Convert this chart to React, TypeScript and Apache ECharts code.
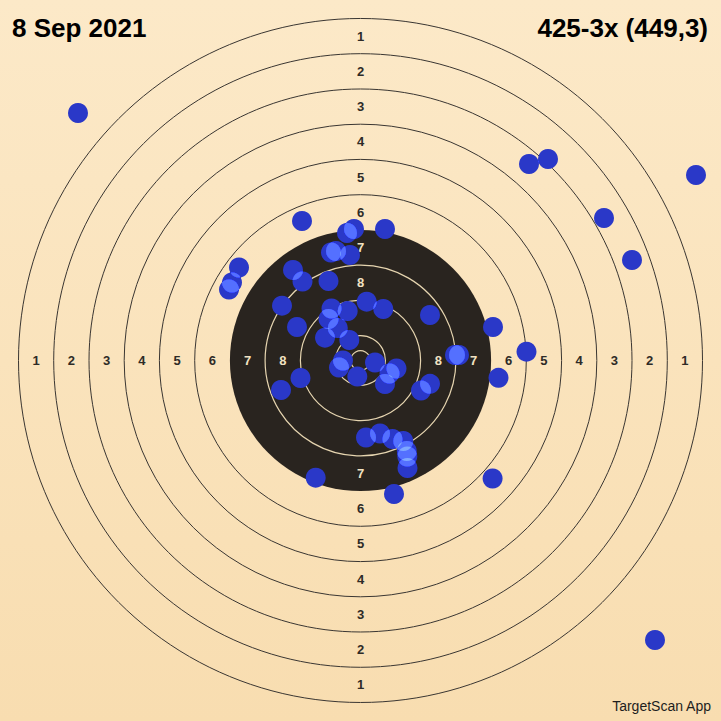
import React, { useEffect, useRef } from "react";
import * as echarts from "echarts";

// Target geometry (target units, centre = 0,0)
const ringRadii = [342, 306.8, 271.5, 236.3, 201.1, 165.8, 130.6, 95.4, 60.1, 24.9, 9.7];
const ringKinds = ["line", "line", "line", "line", "line", "line", "black", "inner", "inner", "inner", "inner"];
const labelScores = [1, 2, 3, 4, 5, 6, 7, 8];

// Shots
const shotX = [
  -282.5, 168.5, 187.5, 335.5, 243.5, 271.5, 294.5, -58.5, 24.5, -13.5,
  -6.5, -29.5, -24.5, -10.5, -121.5, -128.5, -131.5, -67.5, -58, -32,
  -78.5, -63.5, 6.2, 22.8, -29, -12.8, -32, -22.7, -35.5, -11.2,
  -17.5, -21.5, 14.5, -3.2, 36, 29, 24.5, 69.5, 132.5, 166,
  94.5, 98.5, 138, 69.5, 60.5, -60, -79.5, 5.5, 19.5, 32,
  42.8, 46.3, 46.8, 47, -44.8, 33.5, 132.1,
];
const shotY = [
  247.5, 196.5, 201.5, 185.5, 142.5, 100.5, -279.5, 139.5, 131.5, 127.5,
  131.5, 108, 109.5, 105.5, 93, 78, 71, 90.5, 79, 79.5,
  54.8, 33.5, 58.8, 51.5, 52, 49.5, 41.5, 32.5, 22.8, 20.5,
  0, -7, -2, -16, -8, -13, -23.5, 45.5, 33.5, 8.8,
  5.5, 5.5, -17.3, -23.3, -30, -17.5, -29.5, -77, -73, -78.5,
  -80.5, -90.5, -96, -107.5, -117.2, -133.5, -118,
];

const titleLeft = "8 Sep 2021";
const titleRight = "425-3x (449,3)";
const footerText = "TargetScan App";

const EXTENT = 360.5;
const FONT = '"Liberation Sans", Arial, Helvetica, sans-serif';

function axes() {
  return {
    grid: { left: 0, right: 0, top: 0, bottom: 0 },
    xAxis: { type: "value", min: -EXTENT, max: EXTENT, show: false },
    yAxis: { type: "value", min: -EXTENT, max: EXTENT, show: false },
  };
}

export default function App() {
  const targetRef = useRef<HTMLDivElement>(null);
  const dotsRef = useRef<HTMLDivElement>(null);

  useEffect(() => {
    const target = echarts.init(targetRef.current!, undefined, { renderer: "svg" });
    const dots = echarts.init(dotsRef.current!, undefined, { renderer: "svg" });

    const ringData = ringRadii.map((r, i) => [r, i]);
    const labelData: number[][] = [];
    labelScores.forEach((s) => {
      const mid = (ringRadii[s - 1] + ringRadii[s]) / 2;
      labelData.push([0, mid, s], [0, -mid, s], [-mid, 0, s], [mid, 0, s]);
    });

    target.setOption({
      animation: false,
      backgroundColor: "transparent",
      ...axes(),
      graphic: [
        {
          type: "text",
          x: 12,
          y: 28,
          style: { text: titleLeft, font: `bold 26px ${FONT}`, fill: "#000", align: "left", verticalAlign: "middle" },
        },
        {
          type: "text",
          x: 708,
          y: 28,
          style: { text: titleRight, font: `bold 26px ${FONT}`, fill: "#000", align: "right", verticalAlign: "middle" },
        },
        {
          type: "text",
          x: 711,
          y: 706,
          style: { text: footerText, font: `14px ${FONT}`, fill: "#1e1e1e", align: "right", verticalAlign: "middle" },
        },
      ],
      series: [
        {
          type: "custom",
          silent: true,
          clip: false,
          data: ringData,
          renderItem: (params: any, api: any) => {
            const r = api.value(0);
            const kind = ringKinds[api.value(1)];
            const c = api.coord([0, 0]);
            const rr = api.size([r, 0])[0];
            let style: any;
            if (kind === "black") style = { fill: "#29241f", stroke: null };
            else if (kind === "inner") style = { fill: null, stroke: "#e6d5b0", lineWidth: 1.2 };
            else style = { fill: null, stroke: "#3a3632", lineWidth: 1 };
            return { type: "circle", shape: { cx: c[0], cy: c[1], r: rr }, style };
          },
        },
        {
          type: "custom",
          silent: true,
          clip: false,
          data: labelData,
          renderItem: (params: any, api: any) => {
            const p = api.coord([api.value(0), api.value(1)]);
            const s = api.value(2);
            return {
              type: "text",
              x: p[0],
              y: p[1],
              style: {
                text: String(s),
                fill: s >= 7 ? "#f1e2c2" : "#2e2b27",
                font: `bold 13px ${FONT}`,
                align: "center",
                verticalAlign: "middle",
              },
            };
          },
        },
      ],
    });

    dots.setOption({
      animation: false,
      backgroundColor: "transparent",
      ...axes(),
      series: [
        {
          type: "scatter",
          silent: true,
          symbol: "circle",
          symbolSize: 20,
          data: shotX.map((x, i) => [x, shotY[i]]),
          itemStyle: { color: "#2a38c8", opacity: 1 },
        },
      ],
    });

    return () => {
      target.dispose();
      dots.dispose();
    };
  }, []);

  const box: React.CSSProperties = { position: "fixed", left: 0, top: 0, width: 721, height: 721 };
  return (
    <>
      <style>{`.dot-layer svg path { mix-blend-mode: plus-lighter; }`}</style>
      <div
        ref={targetRef}
        style={{ ...box, background: "linear-gradient(180deg, #fce9c8 0%, #f8ddb0 100%)" }}
      />
      <div ref={dotsRef} className="dot-layer" style={{ ...box, isolation: "isolate", pointerEvents: "none" }} />
    </>
  );
}
